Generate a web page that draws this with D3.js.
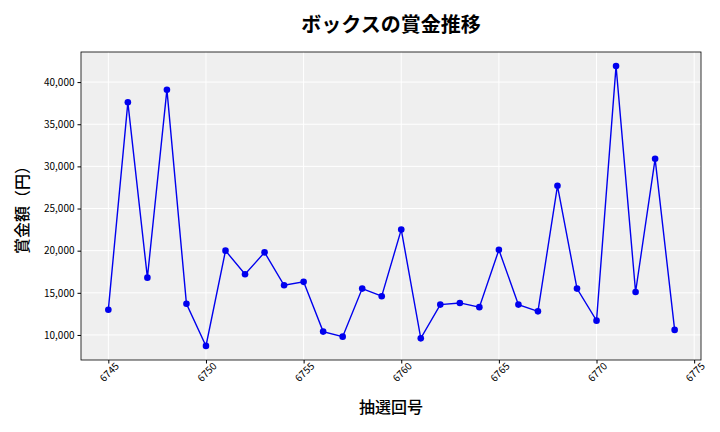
<!DOCTYPE html>
<html><head><meta charset="utf-8">
<script src="https://cdn.jsdelivr.net/npm/d3@7"></script>
<style>body{margin:0;background:#fff}</style></head>
<body><svg id="c" width="720" height="432"></svg>
<script>
const draws=[6745,6746,6747,6748,6749,6750,6751,6752,6753,6754,6755,6756,6757,6758,6759,6760,6761,6762,6763,6764,6765,6766,6767,6768,6769,6770,6771,6772,6773,6774];
const prizes=[13000,37600,16800,39100,13700,8700,20000,17200,19800,15900,16300,10400,9800,15500,14600,22500,9600,13600,13800,13300,20100,13600,12800,27700,15500,11700,41900,15100,30900,10600];
const xTicks=[6745,6750,6755,6760,6765,6770,6775];
const yTicks=[10000,15000,20000,25000,30000,35000,40000];
const svg=d3.select("#c");
const L=81,R=701,T=52,B=360;
const font="'Noto Sans CJK JP','Noto Sans',sans-serif";
const x=d3.scaleLinear().domain([6743.6,6775.35]).range([L,R]);
const y=d3.scaleLinear().domain([7030,43570]).range([B,T]);
svg.append("rect").attr("x",L).attr("y",T).attr("width",R-L).attr("height",B-T).attr("fill","#efefef");
svg.append("g").selectAll("line").data(yTicks).join("line").attr("x1",L).attr("x2",R).attr("y1",d=>y(d)).attr("y2",d=>y(d)).attr("stroke","#fff");
svg.append("g").selectAll("line").data(xTicks).join("line").attr("y1",T).attr("y2",B).attr("x1",d=>x(d)).attr("x2",d=>x(d)).attr("stroke","#fff");
svg.append("rect").attr("x",L).attr("y",T).attr("width",R-L).attr("height",B-T).attr("fill","none").attr("stroke","#000").attr("stroke-width",0.8);
const ya=svg.append("g").attr("transform",`translate(${L},0)`).call(d3.axisLeft(y).tickValues(yTicks).tickFormat(d3.format(",")).tickSize(3.5));
ya.select(".domain").remove();
ya.selectAll("text").attr("font-size",10).attr("font-family",font).attr("fill","#000");
const xa=svg.append("g").attr("transform",`translate(0,${B})`).call(d3.axisBottom(x).tickValues(xTicks).tickFormat(d3.format("d")).tickSize(3.5));
xa.select(".domain").remove();
xa.selectAll("text").attr("font-size",10).attr("font-family",font).attr("fill","#000")
  .attr("text-anchor","end").attr("dx","0.3em").attr("dy","0.6em").attr("transform","rotate(-45)");
const data=draws.map((d,i)=>[d,prizes[i]]);
svg.append("path").datum(data).attr("fill","none").attr("stroke","#0000ee").attr("stroke-width",1.4)
  .attr("d",d3.line().x(d=>x(d[0])).y(d=>y(d[1])));
svg.append("g").selectAll("circle").data(data).join("circle").attr("cx",d=>x(d[0])).attr("cy",d=>y(d[1])).attr("r",3.3).attr("fill","#0000ee");
svg.append("text").attr("x",391).attr("y",32).attr("text-anchor","middle").attr("font-size",20).attr("font-weight","bold").attr("font-family",font).text("ボックスの賞金推移");
svg.append("text").attr("x",391).attr("y",413).attr("text-anchor","middle").attr("font-size",16).attr("font-weight",500).attr("font-family",font).text("抽選回号");
svg.append("text").attr("transform","translate(28,206) rotate(-90)").attr("text-anchor","middle").attr("font-size",16).attr("font-weight",500).attr("font-family",font).text("賞金額（円）");
</script></body></html>
